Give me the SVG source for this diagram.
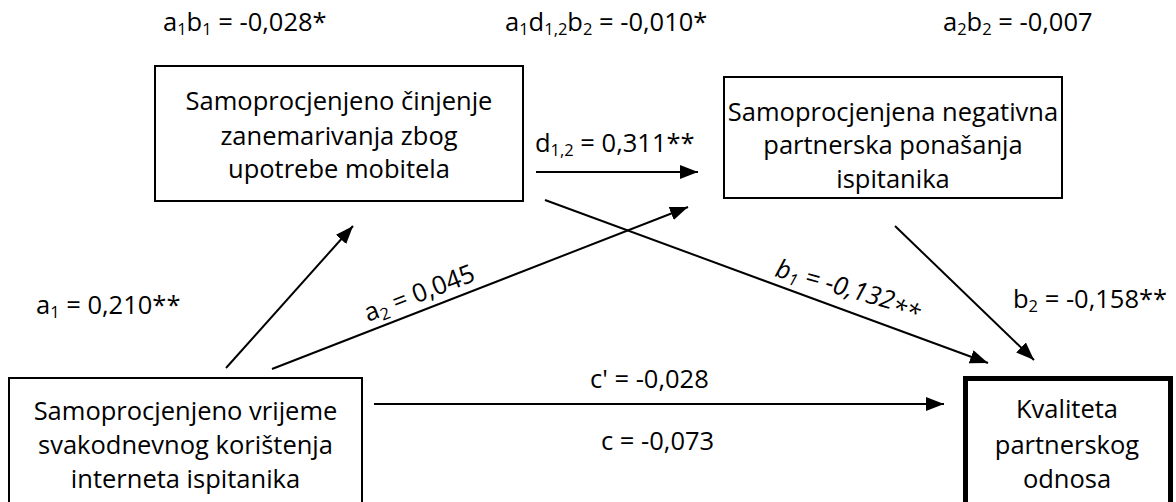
<svg xmlns="http://www.w3.org/2000/svg" width="1176" height="502" viewBox="0 0 1176 502">
  <defs>
    <marker id="arrow" markerUnits="userSpaceOnUse" markerWidth="20" markerHeight="16" refX="18" refY="7" orient="auto">
      <path d="M0,0 L18,7 L0,14 Z" fill="#000"/>
    </marker>
    <style>
      text { font-family: "Open Sans", "Liberation Sans", sans-serif; fill: #000; }
      .box { fill: #fff; stroke: #000; stroke-width: 2; }
      .box-thick { fill: #fff; stroke: #000; stroke-width: 5; }
      .node-text { font-size: 25.5px; text-anchor: middle; }
      .label { font-size: 25.5px; }
      .sub { font-size: 16.5px; }
      .edge { stroke: #000; stroke-width: 2; fill: none; marker-end: url(#arrow); }
    </style>
  </defs>

  <rect width="1176" height="502" fill="#fff"/>

  <!-- indirect effect estimates -->
  <g id="indirect-effects">
    <text class="label" x="163" y="31">a<tspan class="sub" dy="4">1</tspan><tspan dy="-4">b</tspan><tspan class="sub" dy="4">1</tspan><tspan dy="-4"> = -0,028*</tspan></text>
    <text class="label" x="505" y="31">a<tspan class="sub" dy="4">1</tspan><tspan dy="-4">d</tspan><tspan class="sub" dy="4">1,2</tspan><tspan dy="-4">b</tspan><tspan class="sub" dy="4">2</tspan><tspan dy="-4"> = -0,010*</tspan></text>
    <text class="label" x="943" y="31">a<tspan class="sub" dy="4">2</tspan><tspan dy="-4">b</tspan><tspan class="sub" dy="4">2</tspan><tspan dy="-4"> = -0,007</tspan></text>
  </g>

  <!-- connectors -->
  <g id="connectors">
    <line class="edge" x1="536" y1="172" x2="698" y2="172"/>
    <line class="edge" x1="226" y1="368" x2="353" y2="226"/>
    <line class="edge" x1="272" y1="369" x2="688" y2="207"/>
    <line class="edge" x1="545" y1="200" x2="988" y2="363"/>
    <line class="edge" x1="895" y1="226" x2="1034" y2="360"/>
    <line class="edge" x1="374" y1="404" x2="944" y2="404"/>
  </g>

  <!-- path labels -->
  <g id="path-labels">
    <text class="label" x="535" y="152">d<tspan class="sub" dy="4">1,2</tspan><tspan dy="-4"> = 0,311**</tspan></text>
    <text class="label" x="36" y="314">a<tspan class="sub" dy="4">1</tspan><tspan dy="-4"> = 0,210**</tspan></text>
    <text class="label" transform="translate(368,322) rotate(-21)">a<tspan class="sub" dy="4">2</tspan><tspan dy="-4"> = 0,045</tspan></text>
    <text class="label" font-style="italic" transform="translate(774,276) rotate(16)">b<tspan class="sub" dy="4">1</tspan><tspan dy="-4"> = -0,132</tspan><tspan dy="6">**</tspan></text>
    <text class="label" x="1013" y="308">b<tspan class="sub" dy="4">2</tspan><tspan dy="-4"> = -0,158**</tspan></text>
    <text class="label" x="590" y="388">c' = -0,028</text>
    <text class="label" x="601" y="450">c = -0,073</text>
  </g>

  <g id="node-phubbing">
    <rect class="box" x="155" y="66" width="368" height="135"/>
    <text class="node-text" x="339" y="110">Samoprocjenjeno činjenje</text>
    <text class="node-text" x="339" y="145">zanemarivanja zbog</text>
    <text class="node-text" x="339" y="178">upotrebe mobitela</text>
  </g>

  <g id="node-negative-behaviour">
    <rect class="box" x="724" y="77" width="338" height="121"/>
    <text class="node-text" x="893" y="121">Samoprocjenjena negativna</text>
    <text class="node-text" x="893" y="154">partnerska ponašanja</text>
    <text class="node-text" x="893" y="188">ispitanika</text>
  </g>

  <g id="node-internet-use">
    <rect class="box" x="9" y="378" width="353" height="140"/>
    <text class="node-text" x="185.5" y="420">Samoprocjenjeno vrijeme</text>
    <text class="node-text" x="185.5" y="454">svakodnevnog korištenja</text>
    <text class="node-text" x="185.5" y="488">interneta ispitanika</text>
  </g>

  <g id="node-relationship-quality">
    <rect class="box-thick" x="965.5" y="378.5" width="205" height="140"/>
    <text class="node-text" x="1067" y="418">Kvaliteta</text>
    <text class="node-text" x="1067" y="454">partnerskog</text>
    <text class="node-text" x="1067" y="488">odnosa</text>
  </g>
</svg>
